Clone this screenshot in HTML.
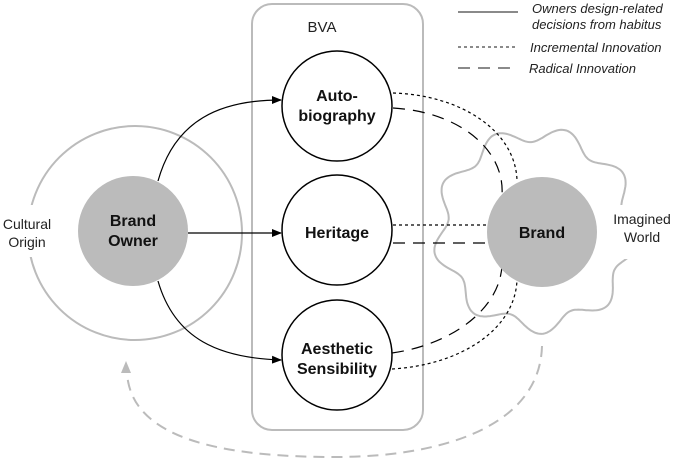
<!DOCTYPE html>
<html><head><meta charset="utf-8"><style>
body{margin:0;background:#fff;}
svg{display:block;font-family:"Liberation Sans",Arial,sans-serif;}
</style></head><body>
<svg width="685" height="463" viewBox="0 0 685 463" xmlns="http://www.w3.org/2000/svg">
<defs>
<marker id="ah" markerWidth="10" markerHeight="8" refX="9" refY="4" orient="auto" markerUnits="userSpaceOnUse"><path d="M0,0 L10,4 L0,8 z" fill="#000"/></marker>
</defs>
<rect x="252" y="4" width="171" height="426" rx="20" fill="none" stroke="#bbb" stroke-width="2"/>
<text x="322" y="32" font-size="15" text-anchor="middle" fill="#222">BVA</text>
<circle cx="135" cy="233" r="107" fill="none" stroke="#bbb" stroke-width="2"/>
<rect x="0" y="205" width="62" height="52" fill="#fff"/>
<text x="27" y="229" font-size="14" text-anchor="middle" fill="#222">Cultural</text>
<text x="27" y="247" font-size="14" text-anchor="middle" fill="#222">Origin</text>
<path id="cloud" d="" fill="none" stroke="#bbb" stroke-width="2"/>
<rect x="600" y="205" width="85" height="54" fill="#fff"/>
<text x="642" y="224" font-size="14" text-anchor="middle" fill="#222">Imagined</text>
<text x="642" y="242" font-size="14" text-anchor="middle" fill="#222">World</text>
<path d="M542,346 C540,425 445,457 335,457 C225,457 130,440 127,372" fill="none" stroke="#bbb" stroke-width="2" stroke-dasharray="11,7"/>
<path d="M121,373 L126,361 L131,373 z" fill="#bbb"/>
<path d="M393,93 C460,95 515,130 517,180" fill="none" stroke="#000" stroke-width="1.2" stroke-dasharray="3,3"/>
<path d="M393,108 C460,112 505,150 502,195" fill="none" stroke="#000" stroke-width="1.2" stroke-dasharray="12,8"/>
<line x1="393" y1="225" x2="488" y2="225" stroke="#000" stroke-width="1.2" stroke-dasharray="3,3"/>
<line x1="393" y1="243" x2="488" y2="243" stroke="#000" stroke-width="1.2" stroke-dasharray="12,8"/>
<path d="M392,353 C450,345 500,310 502,265" fill="none" stroke="#000" stroke-width="1.2" stroke-dasharray="12,8"/>
<path d="M392,369 C460,365 515,330 517,280" fill="none" stroke="#000" stroke-width="1.2" stroke-dasharray="3,3"/>
<circle cx="542" cy="232" r="55" fill="#bbb"/>
<text x="542" y="238" font-size="16" font-weight="bold" text-anchor="middle" fill="#111">Brand</text>
<path d="M158,181 C175,120 220,100 281,100" fill="none" stroke="#000" stroke-width="1.2" marker-end="url(#ah)"/>
<line x1="188" y1="233" x2="281" y2="233" stroke="#000" stroke-width="1.2" marker-end="url(#ah)"/>
<path d="M158,281 C175,340 220,358 281,360" fill="none" stroke="#000" stroke-width="1.2" marker-end="url(#ah)"/>
<circle cx="133" cy="231" r="55" fill="#bbb"/>
<text x="133" y="226" font-size="16" font-weight="bold" text-anchor="middle" fill="#111">Brand</text>
<text x="133" y="246" font-size="16" font-weight="bold" text-anchor="middle" fill="#111">Owner</text>
<circle cx="337" cy="106" r="55" fill="#fff" stroke="#000" stroke-width="1.5"/>
<text x="337" y="101" font-size="16" font-weight="bold" text-anchor="middle" fill="#111">Auto-</text>
<text x="337" y="121" font-size="16" font-weight="bold" text-anchor="middle" fill="#111">biography</text>
<circle cx="337" cy="230" r="55" fill="#fff" stroke="#000" stroke-width="1.5"/>
<text x="337" y="238" font-size="16" font-weight="bold" text-anchor="middle" fill="#111">Heritage</text>
<circle cx="337" cy="355" r="55" fill="#fff" stroke="#000" stroke-width="1.5"/>
<text x="337" y="354" font-size="16" font-weight="bold" text-anchor="middle" fill="#111">Aesthetic</text>
<text x="337" y="374" font-size="16" font-weight="bold" text-anchor="middle" fill="#111">Sensibility</text>
<line x1="458" y1="12" x2="518" y2="12" stroke="#444" stroke-width="1.2"/>
<line x1="458" y1="47" x2="518" y2="47" stroke="#444" stroke-width="1.2" stroke-dasharray="3,3"/>
<line x1="458" y1="68" x2="518" y2="68" stroke="#444" stroke-width="1.2" stroke-dasharray="12,8"/>
<g font-size="13" font-style="italic" fill="#222">
<text x="532" y="13">Owners design-related</text>
<text x="532" y="29">decisions from habitus</text>
<text x="530" y="52">Incremental Innovation</text>
<text x="529" y="73">Radical Innovation</text>
</g>
</svg>
<script>
(function(){
var cx=536,cy=230,R=96,A=8,n=9,d="";
for(var i=0;i<=360;i++){
 var t=i*Math.PI/180;
 var r=R+A*Math.sin(n*t+0.5);
 var x=cx+r*Math.cos(t), y=cy+r*Math.sin(t);
 d+=(i?"L":"M")+x.toFixed(1)+","+y.toFixed(1);
}
document.getElementById("cloud").setAttribute("d",d+"Z");
})();
</script>
</body></html>
